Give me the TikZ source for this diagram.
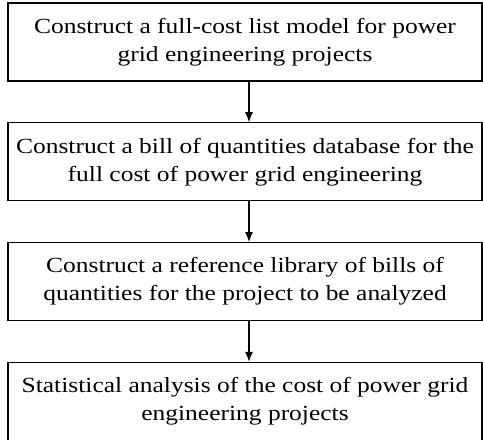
\documentclass[tikz,border=0pt]{standalone}
\usepackage{fontspec}
\setmainfont{Liberation Serif}[FakeStretch=1.18]
\usetikzlibrary{arrows.meta,positioning}

\begin{document}
\begin{tikzpicture}[line width=0.6pt, >={Latex[length=5pt,width=4pt]},
  stepbox/.style={draw, rectangle, minimum width=237pt, minimum height=39pt,
    align=center, font=\fontsize{10.8}{14}\selectfont, inner sep=0pt}]

\useasboundingbox (0,0) rectangle (241.5pt,-220pt);

\node[stepbox] (model) at (122.5pt,-21pt)
  {Construct a full-cost list model for power\\grid engineering projects};
\node[stepbox, below=20.3pt of model] (database)
  {Construct a bill of quantities database for the\\full cost of power grid engineering};
\node[stepbox, below=20.3pt of database] (library)
  {Construct a reference library of bills of\\quantities for the project to be analyzed};
\node[stepbox, below=20.3pt of library] (analysis)
  {Statistical analysis of the cost of power grid\\engineering projects};

\draw[->] ([xshift=2pt]model.south) -- ([xshift=2pt]database.north);
\draw[->] ([xshift=2pt]database.south) -- ([xshift=2pt]library.north);
\draw[->] ([xshift=2pt]library.south) -- ([xshift=2pt]analysis.north);

\end{tikzpicture}
\end{document}
